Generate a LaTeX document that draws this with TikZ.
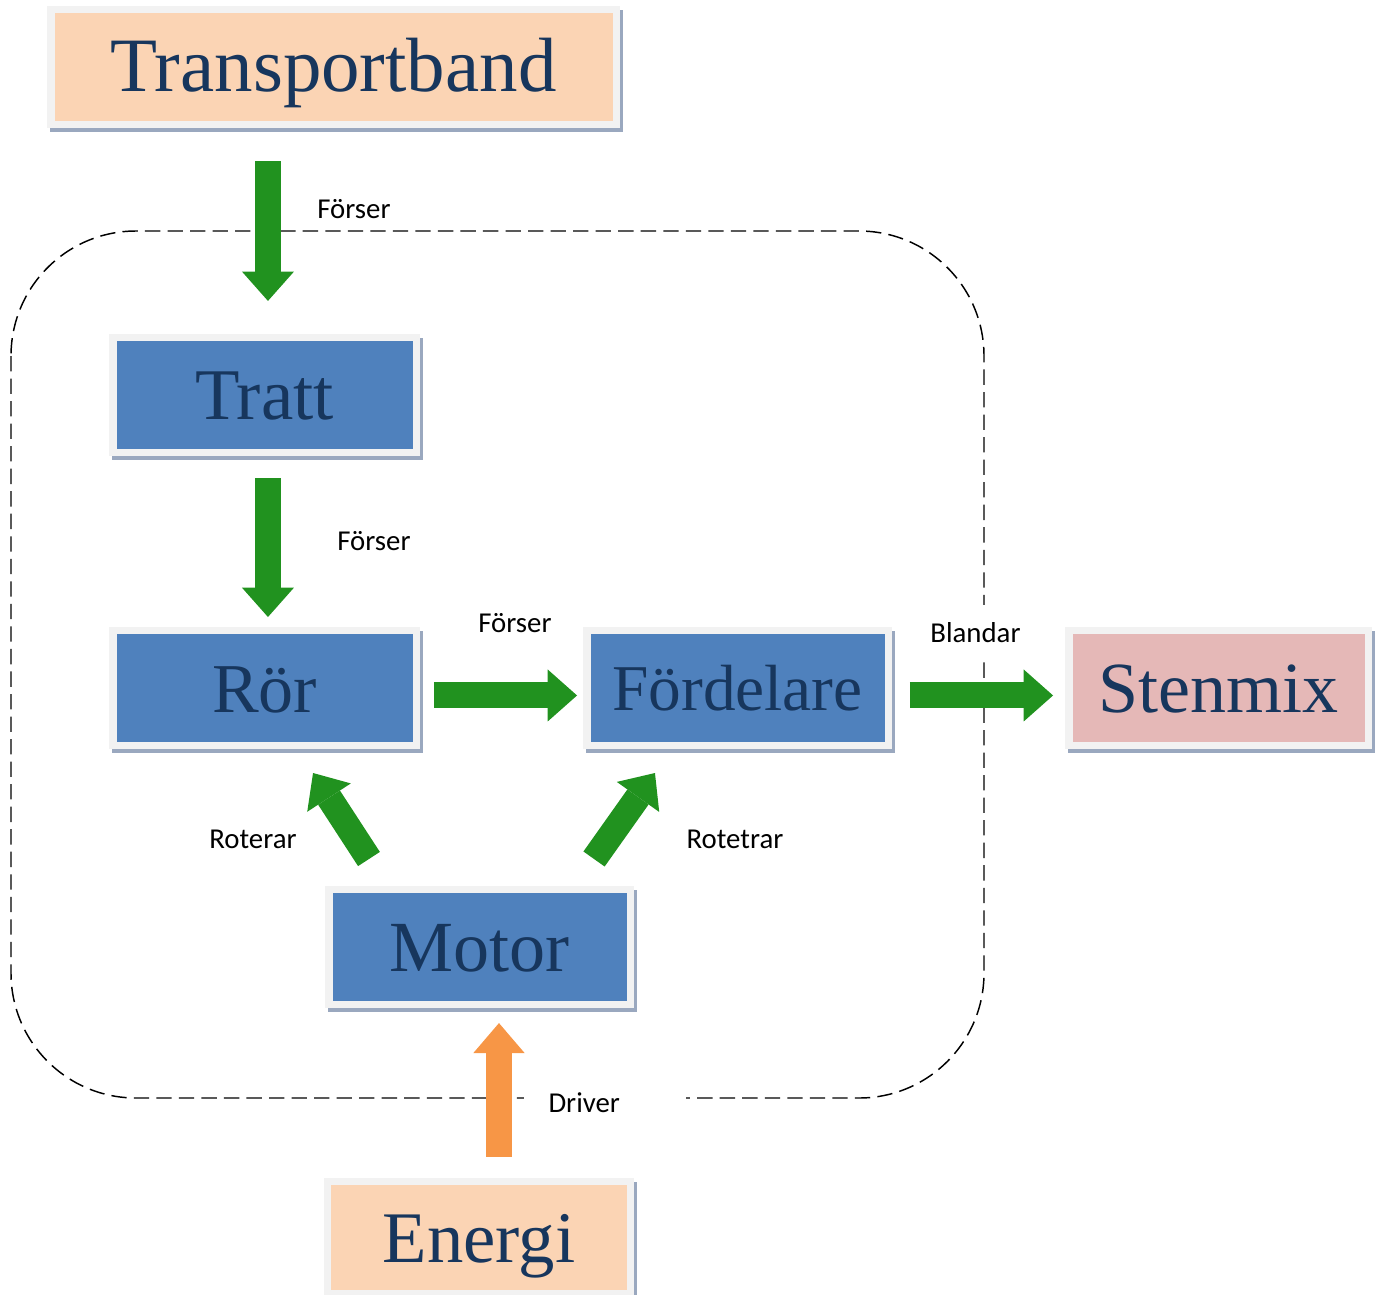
\documentclass[tikz,border=0pt]{standalone}
\usepackage{fontspec}
\setmainfont{Liberation Serif}
\newfontfamily\lblfont{Carlito}
\usetikzlibrary{arrows.meta}
\definecolor{peach}{HTML}{FBD4B4}
\definecolor{bluebox}{HTML}{4F81BD}
\definecolor{pinkbox}{HTML}{E5B8B7}
\definecolor{framec}{HTML}{F2F2F2}
\definecolor{shadowc}{HTML}{9AA8BF}
\definecolor{txtc}{HTML}{17365D}
\definecolor{garrowc}{HTML}{21921F}
\definecolor{oarrowc}{HTML}{F79646}
\tikzset{
  box/.style={draw=framec, line width=5.6pt, fill=#1, minimum height=85.9pt,
    inner sep=0pt, text=txtc, text depth=0pt, text height=37pt,
    preaction={draw=shadowc, line width=5.6pt, transform canvas={xshift=2.2pt,yshift=-3pt}}},
  bigtext/.style={font=\fontsize{#1}{#1}\selectfont},
  garrow/.style={draw=garrowc, line width=19.5pt,
    -{Triangle[width=39pt,length=22pt,line width=0pt]}},
  oarrow/.style={draw=oarrowc, line width=19.5pt,
    -{Triangle[width=38.5pt,length=22.5pt,line width=0pt]}},
  lbl/.style={font=\lblfont\fontsize{21.6}{24}\selectfont, inner sep=0pt, text=black},
  boundary/.style={draw=black, line width=1.1pt, dash pattern=on 11.5pt off 5.4pt, rounded corners=93.75pt},
}
\begin{document}
\begin{tikzpicture}[x=0.75pt,y=-0.75pt]
\useasboundingbox (0,0) rectangle (1381,1295);
% dashed system boundary
\draw[boundary] (11,231) rectangle (984,1098);
% boxes
\node[box=peach, minimum width=424.1pt, bigtext=57.7] (tb) at (333.5,67) {Transportband};
\node[box=bluebox, minimum width=227.6pt, bigtext=54.6] (tratt) at (264.5,395) {Tratt};
\node[box=bluebox, minimum width=227.6pt, bigtext=52.5] (ror) at (264.5,688) {Rör};
\node[box=bluebox, minimum width=226.1pt, bigtext=49, text height=33pt] (ford) at (737.5,688) {Fördelare};
\node[box=pinkbox, minimum width=224.6pt, bigtext=54] (sten) at (1218.5,688) {Stenmix};
\node[box=bluebox, minimum width=226.1pt, bigtext=54] (motor) at (479.5,947) {Motor};
\node[box=peach, minimum width=226.9pt, minimum height=84pt, bigtext=54.5] (energi) at (479,1237.5) {Energi};
% labels
\node[lbl] (l1) at (354,209) {Förser};
\node[lbl] (l2) at (374,541) {Förser};
\node[lbl] (l3) at (515,623) {Förser};
\node[lbl, fill=white, minimum width=75pt, minimum height=41pt] (l4) at (975.5,632.5) {Blandar};
\node[lbl] (l5) at (253,839) {Roterar};
\node[lbl] (l6) at (735,839) {Rotetrar};
\node[lbl, fill=white, text width=84pt, align=left, inner xsep=18.75pt, minimum height=30pt] (l7) at (604.5,1103) {Driver};
% arrows
\coordinate (a1) at ([xshift=2.6pt]tratt.north);
\draw[garrow, shorten <=24.8pt, shorten >=24.8pt] (a1 |- tb.south) -- (a1);
\coordinate (a2) at ([xshift=2.6pt]ror.north);
\draw[garrow, shorten <=16.5pt, shorten >=7.5pt] (a2 |- tratt.south) -- (a2);
\coordinate (a3) at ([yshift=-5.6pt]ford.west);
\draw[garrow, shorten <=10.5pt, shorten >=4.5pt] (a3 -| ror.east) -- (a3);
\coordinate (a4) at ([yshift=-5.6pt]sten.west);
\draw[garrow, shorten <=13.5pt, shorten >=9pt] (a4 -| ford.east) -- (a4);
\draw[garrow] ([shift={(-82.9pt,20.25pt)}]motor.north) -- ([shift={(36.4pt,-18pt)}]ror.south);
\draw[garrow] ([shift={(85.9pt,20.25pt)}]motor.north) -- ([shift={(-61.9pt,-18pt)}]ford.south);
\coordinate (a5) at ([xshift=14.6pt]motor.south);
\draw[oarrow, shorten <=15.7pt, shorten >=11.3pt] (a5 |- energi.north) -- (a5);
\end{tikzpicture}
\end{document}
